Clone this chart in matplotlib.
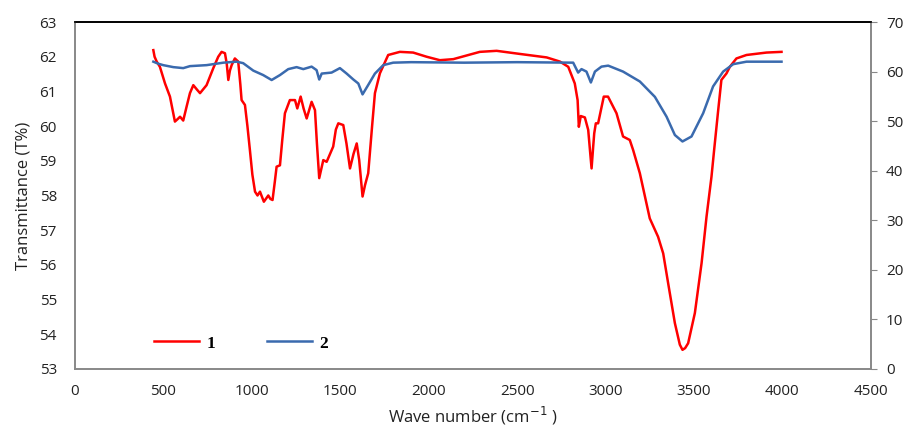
import matplotlib
matplotlib.use("Agg")
import matplotlib.pyplot as plt
from matplotlib.lines import Line2D

# sample 1 (red, left axis)
red_wn = [443, 450, 462, 480, 509, 537, 565, 580, 594, 612, 631, 650, 669, 690, 707,
          744, 782, 810, 829, 848, 858, 867, 876, 886, 904, 923, 935, 942, 961, 975,
          989, 1003, 1018, 1032, 1046, 1068, 1093, 1105, 1117, 1130, 1140, 1159, 1172,
          1187, 1215, 1244, 1257, 1276, 1293, 1310, 1338, 1357, 1368, 1381, 1404, 1423,
          1460, 1475, 1489, 1517, 1535, 1555, 1575, 1593, 1607, 1626, 1640, 1658, 1680,
          1696, 1724, 1771, 1837, 1912, 1988, 2063, 2139, 2289, 2384, 2516, 2667, 2742,
          2789, 2826, 2842, 2849, 2860, 2883, 2902, 2912, 2921, 2930, 2936, 2945, 2958,
          2990, 3014, 3062, 3099, 3137, 3156, 3194, 3250, 3297, 3326, 3354, 3392, 3420,
          3435, 3450, 3467, 3505, 3543, 3571, 3599, 3614, 3637, 3655, 3684, 3703, 3740,
          3797, 3910, 3995]
red_t = [62.19, 62.0, 61.86, 61.71, 61.23, 60.85, 60.13, 60.2, 60.27, 60.16, 60.56, 60.95,
         61.18, 61.05, 60.95, 61.18, 61.67, 62.0, 62.14, 62.1, 61.8, 61.33, 61.6, 61.76,
         61.95, 61.86, 61.2, 60.75, 60.61, 60.0, 59.31, 58.6, 58.11, 58.0, 58.11, 57.82,
         58.0, 57.9, 57.87, 58.4, 58.83, 58.87, 59.6, 60.37, 60.75, 60.75, 60.51, 60.85,
         60.5, 60.22, 60.7, 60.46, 59.5, 58.5, 59.02, 58.97, 59.41, 59.9, 60.08, 60.03,
         59.5, 58.78, 59.2, 59.5, 59.02, 57.97, 58.3, 58.64, 60.0, 60.95, 61.52, 62.05,
         62.14, 62.12, 62.0, 61.9, 61.93, 62.14, 62.17, 62.08, 61.98, 61.86, 61.71, 61.23,
         60.75, 59.98, 60.29, 60.25, 59.89, 59.3, 58.78, 59.4, 59.79, 60.08, 60.08, 60.85,
         60.85, 60.37, 59.7, 59.6, 59.31, 58.64, 57.34, 56.81, 56.33, 55.47, 54.32, 53.7,
         53.55, 53.6, 53.74, 54.61, 56.05, 57.39, 58.54, 59.31, 60.46, 61.33, 61.52, 61.71,
         61.95, 62.05, 62.12, 62.14]

# sample 2 (blue, right axis)
blue_wn = [443, 470, 499, 556, 612, 650, 744, 839, 914, 951, 1008, 1064, 1112, 1159, 1206,
           1253, 1291, 1338, 1366, 1381, 1395, 1451, 1498, 1536, 1574, 1602, 1626, 1658,
           1696, 1743, 1799, 1900, 2200, 2500, 2817, 2845, 2864, 2892, 2917, 2940, 2977,
           3015, 3099, 3194, 3279, 3345, 3392, 3435, 3486, 3552, 3608, 3665, 3722, 3797,
           3995]
blue_t = [62.0, 61.6, 61.3, 60.9, 60.7, 61.1, 61.3, 61.8, 62.0, 61.7, 60.2, 59.3, 58.3,
          59.3, 60.5, 60.9, 60.5, 61.0, 60.3, 58.4, 59.6, 59.8, 60.7, 59.6, 58.4, 57.6,
          55.4, 57.3, 59.6, 61.3, 61.8, 61.9, 61.8, 61.9, 61.8, 59.8, 60.5, 60.0, 57.8,
          60.0, 61.0, 61.2, 60.0, 58.0, 54.9, 50.9, 47.2, 45.9, 46.9, 51.6, 57.0, 60.0,
          61.5, 62.0, 62.0]

x_ticks = [0, 500, 1000, 1500, 2000, 2500, 3000, 3500, 4000, 4500]
left_ticks = list(range(53, 64))
right_ticks = list(range(0, 71, 10))

RED = '#ff0000'
BLUE = '#3a6aae'
plt.rcParams['font.family'] = ['Open Sans', 'DejaVu Sans']

fig = plt.figure(figsize=(9.09, 4.32), dpi=100)
ax = fig.add_axes([0.0825, 0.146, 0.8755, 0.803])
ax2 = ax.twinx()

ax.plot(red_wn, red_t, color=RED, linewidth=1.8, solid_joinstyle='round')
ax2.plot(blue_wn, blue_t, color=BLUE, linewidth=1.8, solid_joinstyle='round')

ax.set_xlim(0, 4500)
ax.set_ylim(53, 63)
ax2.set_ylim(0, 70)
ax.set_xticks(x_ticks)
ax.set_yticks(left_ticks)
ax2.set_yticks(right_ticks)

ax.tick_params(axis='both', length=0, labelsize=11, colors='#222222')
ax.tick_params(axis='y', pad=13)
ax.tick_params(axis='x', pad=11)
ax2.tick_params(axis='y', length=4, width=0.8, color='#888888', labelsize=11,
                labelcolor='#222222', pad=7)

for a in (ax, ax2):
    a.spines['left'].set_color('#888888')
    a.spines['bottom'].set_color('#888888')
    a.spines['right'].set_color('#888888')
    a.spines['top'].set_color('black')
    for s in a.spines.values():
        s.set_linewidth(1.2)

ax.set_xlabel('Wave number (cm$^{-1}$ )', fontsize=12, color='#222222', labelpad=4)
ax.set_ylabel('Transmittance (T%)', fontsize=12, color='#222222', labelpad=6)

handles = [Line2D([], [], color=RED, linewidth=1.8),
           Line2D([], [], color=BLUE, linewidth=1.8)]
ax.legend(handles, ['1', '2'], ncol=2, frameon=False, loc='lower left',
          bbox_to_anchor=(0.08, 0.005), handlelength=2.6, columnspacing=3.0,
          handletextpad=0.4, prop={'family': 'Liberation Serif', 'weight': 'bold', 'size': 12.5})

fig.savefig('out.png', dpi=100)
